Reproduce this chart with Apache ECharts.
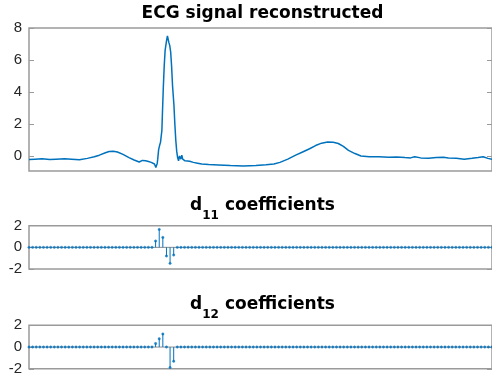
<!DOCTYPE html>
<html>
<head>
<meta charset="utf-8">
<script src="https://cdn.jsdelivr.net/npm/echarts@6/dist/echarts.min.js"></script>
<style>
  html, body { margin: 0; padding: 0; background: #fff; }
  #chart { width: 492px; height: 383px; }
</style>
</head>
<body>
<div id="chart"></div>
<script>
// Reconstructed ECG beat: [sample, amplitude]
const ecgPoints = [
  [0,-0.22],[13,-0.2],[28,-0.18],[45,-0.22],[58,-0.2],[77,-0.18],[92,-0.2],[109,-0.24],
  [126,-0.15],[141,-0.05],[152,0.05],[165,0.2],[173,0.28],[182,0.3],[191,0.25],[203,0.1],
  [216,-0.1],[227,-0.25],[238,-0.38],[242,-0.3],[245,-0.28],[248,-0.22],[252,-0.3],[255,-0.2],
  [258,-0.35],[261,-0.25],[264,-0.4],[268,-0.3],[271,-0.5],[274,-0.72],[277,-0.45],[278,-0.2],
  [280,0.4],[282,0.65],[284,0.85],[287,1.6],[288,2.5],[290,4.2],[292,5.6],[294,6.6],
  [297,7.2],[299,7.5],[300,7.45],[302,7.1],[304,6.9],[306,6.5],[308,5.6],[310,4.4],
  [313,3.2],[315,2.0],[317,1.0],[319,0.3],[321,-0.1],[323,-0.3],[325,0.0],[328,-0.2],
  [330,0.05],[332,-0.2],[334,-0.1],[337,-0.3],[340,-0.28],[347,-0.33],[355,-0.4],[364,-0.45],
  [373,-0.5],[388,-0.54],[409,-0.56],[435,-0.6],[463,-0.62],[490,-0.6],[512,-0.55],[529,-0.5],
  [542,-0.4],[559,-0.2],[576,0.05],[591,0.25],[606,0.45],[619,0.65],[632,0.8],[645,0.87],
  [657,0.86],[668,0.78],[679,0.6],[690,0.35],[704,0.15],[717,0.0],[735,-0.05],[756,-0.05],
  [777,-0.08],[794,-0.06],[812,-0.1],[824,-0.12],[833,-0.05],[846,-0.12],[863,-0.15],[880,-0.1],
  [895,-0.08],[906,-0.12],[923,-0.15],[940,-0.2],[957,-0.15],[970,-0.1],[981,-0.05],[991,-0.15],
  [1000,-0.2]
];

// Detail coefficients (129 each), index 1..129
const d11 = [
  0,0,0,0,0,0,0,0,0,0,
  0,0,0,0,0,0,0,0,0,0,
  0,0,0,0,0,0,0,0,0,0,
  0,0,0,0,0,
  0.58,1.66,0.92,-0.8,-1.48,-0.71,
  0,0,0,0,0,0,0,0,0,0,
  0,0,0,0,0,0,0,0,0,0,
  0,0,0,0,0,0,0,0,0,0,
  0,0,0,0,0,0,0,0,0,0,
  0,0,0,0,0,0,0,0,0,0,
  0,0,0,0,0,0,0,0,0,0,
  0,0,0,0,0,0,0,0,0,0,
  0,0,0,0,0,0,0,0,0,0,
  0,0,0,0,0,0,0,0
];
const d12 = [
  0,0,0,0,0,0,0,0,0,0,
  0,0,0,0,0,0,0,0,0,0,
  0,0,0,0,0,0,0,0,0,0,
  0,0,0,0,0,
  0.32,0.76,1.2,0,-1.88,-1.3,
  0,0,0,0,0,0,0,0,0,0,
  0,0,0,0,0,0,0,0,0,0,
  0,0,0,0,0,0,0,0,0,0,
  0,0,0,0,0,0,0,0,0,0,
  0,0,0,0,0,0,0,0,0,0,
  0,0,0,0,0,0,0,0,0,0,
  0,0,0,0,0,0,0,0,0,0,
  0,0,0,0,0,0,0,0,0,0,
  0,0,0,0,0,0,0,0
];

const ecgTicks = [0, 2, 4, 6, 8];
const coefTicks = [-2, 0, 2];

const BLUE = '#0072BD';
const BOX = '#9a9a9a';
const LABEL_FONT = '"Liberation Sans", Arial, sans-serif';
const TITLE_FONT = '"DejaVu Sans", sans-serif';

const chart = echarts.init(document.getElementById('chart'), null, { renderer: 'canvas' });

function leftAxis(gridIndex, min, max, ticks) {
  return {
    type: 'value', gridIndex, position: 'left', min, max,
    axisLine: { show: false },
    splitLine: { show: false },
    axisTick: { show: true, inside: true, length: 5, customValues: ticks,
                lineStyle: { color: BOX, width: 1 } },
    axisLabel: { show: true, customValues: ticks, margin: 7, color: '#262626',
                 fontSize: 15, fontFamily: LABEL_FONT }
  };
}
function rightAxis(gridIndex, min, max, ticks) {
  return {
    type: 'value', gridIndex, position: 'right', min, max,
    axisLine: { show: false },
    splitLine: { show: false },
    axisTick: { show: true, inside: true, length: 5, customValues: ticks,
                lineStyle: { color: BOX, width: 1 } },
    axisLabel: { show: false }
  };
}
function hiddenX(gridIndex, min, max) {
  return {
    type: 'value', gridIndex, min, max,
    axisLine: { show: false }, axisTick: { show: false },
    axisLabel: { show: false }, splitLine: { show: false }
  };
}

function stemSeries(values, axisIdx) {
  return {
    type: 'custom',
    xAxisIndex: axisIdx, yAxisIndex: axisIdx * 2,
    z: 3,
    clip: false,
    data: values.map((v, i) => [i + 1, v]),
    renderItem(params, api) {
      const x = api.value(0), y = api.value(1);
      const p0 = api.coord([x, 0]);
      const p1 = api.coord([x, y]);
      const children = [];
      if (y !== 0) {
        children.push({ type: 'line',
          shape: { x1: p0[0], y1: p0[1], x2: p1[0], y2: p1[1] },
          style: { stroke: BLUE, lineWidth: 1 } });
      }
      children.push({ type: 'circle',
        shape: { cx: p1[0], cy: p1[1], r: 1.2 },
        style: { fill: BLUE, stroke: BLUE, lineWidth: 0.4, opacity: 0.85 } });
      return { type: 'group', children };
    }
  };
}
function baseline(values, axisIdx) {
  return {
    type: 'line', xAxisIndex: axisIdx, yAxisIndex: axisIdx * 2, z: 1,
    symbol: 'none', silent: true,
    data: [[1, 0], [values.length, 0]],
    lineStyle: { color: '#8c8c8c', width: 1 }
  };
}

function subTitle(sub, y) {
  return {
    type: 'text', x: 262.5, y,
    style: {
      text: '{m|d}{s|' + sub + '}{m| coefficients}',
      align: 'center', verticalAlign: 'top',
      rich: {
        m: { fontFamily: TITLE_FONT, fontWeight: 'bold', fontSize: 17, lineHeight: 17,
             verticalAlign: 'top', fill: '#000' },
        s: { fontFamily: TITLE_FONT, fontWeight: 'bold', fontSize: 12, lineHeight: 12,
             padding: [12.5, 0, 0, 0], verticalAlign: 'top', fill: '#000' }
      }
    }
  };
}

const option = {
  backgroundColor: '#fff',
  animation: false,
  grid: [
    { left: 29, top: 28, width: 467, height: 143, show: true, borderColor: BOX, borderWidth: 1.5, backgroundColor: 'transparent' },
    { left: 29, top: 225.7, width: 467, height: 43.3, show: true, borderColor: BOX, borderWidth: 1.5, backgroundColor: 'transparent' },
    { left: 29, top: 325.3, width: 467, height: 43.5, show: true, borderColor: BOX, borderWidth: 1.5, backgroundColor: 'transparent' }
  ],
  xAxis: [
    hiddenX(0, 0, 1000),
    hiddenX(1, 1, d11.length),
    hiddenX(2, 1, d12.length)
  ],
  yAxis: [
    leftAxis(0, -0.94, 8, ecgTicks), rightAxis(0, -0.94, 8, ecgTicks),
    leftAxis(1, -2, 2, coefTicks), rightAxis(1, -2, 2, coefTicks),
    leftAxis(2, -2, 2, coefTicks), rightAxis(2, -2, 2, coefTicks)
  ],
  graphic: [
    {
      type: 'text', x: 262.5, y: 5.3,
      style: {
        text: 'ECG signal reconstructed', align: 'center', verticalAlign: 'top',
        fontFamily: TITLE_FONT, fontWeight: 'bold', fontSize: 17, fill: '#000'
      }
    },
    subTitle('11', 197.3),
    subTitle('12', 296.3)
  ],
  series: [
    {
      type: 'line', xAxisIndex: 0, yAxisIndex: 0,
      data: ecgPoints, symbol: 'none',
      lineStyle: { color: BLUE, width: 1.5 }
    },
    baseline(d11, 1),
    stemSeries(d11, 1),
    baseline(d12, 2),
    {
      ...stemSeries(d12, 2),
      yAxisIndex: 4
    }
  ]
};
// stem series for d11 uses yAxis 2, d12 uses yAxis 4
option.series[1].yAxisIndex = 2;
option.series[2].yAxisIndex = 2;
option.series[3].yAxisIndex = 4;

chart.setOption(option);
</script>
</body>
</html>
